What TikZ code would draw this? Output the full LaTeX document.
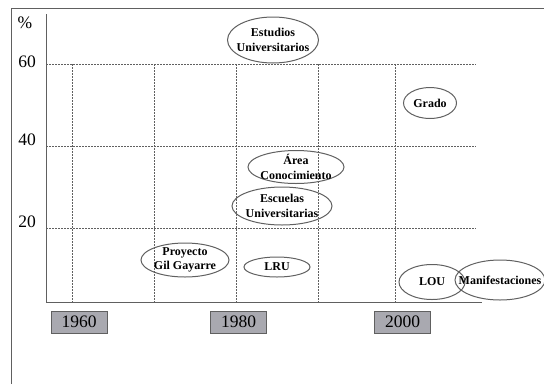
\documentclass[tikz,border=0pt]{standalone}
\usepackage{fontspec}
\setmainfont{Liberation Serif}
\usetikzlibrary{shapes.geometric}
\definecolor{linegray}{HTML}{606060}
\definecolor{boxfill}{HTML}{A9A9B0}
\tikzset{
  ell/.style={ellipse, draw=linegray, line width=1pt, inner sep=0pt},
  lbl/.style={inner sep=0pt, align=center, font=\fontsize{12}{14.5}\selectfont\bfseries},
  grid/.style={draw=linegray, line width=0.5pt, dash pattern=on 1.5pt off 1.5pt},
  axislbl/.style={font=\fontsize{17.5}{17.5}\selectfont, inner sep=0pt},
  yearbox/.style={draw=linegray, fill=boxfill, line width=0.7pt, minimum width=56pt, minimum height=22pt,
    inner sep=0pt, font=\fontsize{17.5}{17.5}\selectfont},
}
\begin{document}
\begin{tikzpicture}[x=1pt,y=-1pt]
\useasboundingbox (0,0) rectangle (544,384);
% frame
\draw[linegray, line width=0.8pt] (11,384) -- (11,8) -- (544,8);
% grid
\foreach \yy in {64,146,228} \draw[grid] (46,\yy) -- (476,\yy);
\foreach \xx in {72,154,236,318,395} \draw[grid] (\xx,64) -- (\xx,302);
% axes
\coordinate (o) at (46,302);
\coordinate (ytop) at (46,14);
\coordinate (xend) at (482,302);
\draw[linegray, line width=0.9pt] (ytop) -- (o) -- (xend);
% axis labels
\node[axislbl] (pct) at (25,23) {\%};
\node[axislbl] (l60) at (27,62) {60};
\node[axislbl] (l40) at (27,140) {40};
\node[axislbl] (l20) at (27,222) {20};
% years
\node[yearbox] (y1960) at (79,322) {1960};
\node[yearbox] (y1980) at (238.5,322) {1980};
\node[yearbox] (y2000) at (402.5,322) {2000};
% ellipses
\node[ell, minimum width=91pt, minimum height=46pt, label={[lbl]center:Estudios\\Universitarios}] (est) at (273,40) {};
\node[ell, minimum width=53pt, minimum height=31pt, label={[lbl]center:Grado}] (grado) at (430,103) {};
\node[ell, minimum width=96pt, minimum height=33pt, label={[lbl]center:Área\\Conocimiento}] (area) at (296,167) {};
\node[ell, minimum width=100pt, minimum height=38pt, label={[lbl]center:Escuelas\\Universitarias}] (esc) at (282,206) {};
\node[ell, minimum width=88pt, minimum height=34pt, label={[lbl]center:Proyecto\\Gil Gayarre}] (pgg) at (185,260) {};
\node[ell, minimum width=66pt, minimum height=20pt, label={[lbl]center:LRU}] (lru) at (277,267) {};
\node[ell, minimum width=66pt, minimum height=35pt, label={[lbl]center:LOU}] (lou) at (432,282) {};
\node[ell, minimum width=90pt, minimum height=40pt, label={[lbl]center:Manifestaciones}] (man) at (500,280) {};
\end{tikzpicture}
\end{document}
